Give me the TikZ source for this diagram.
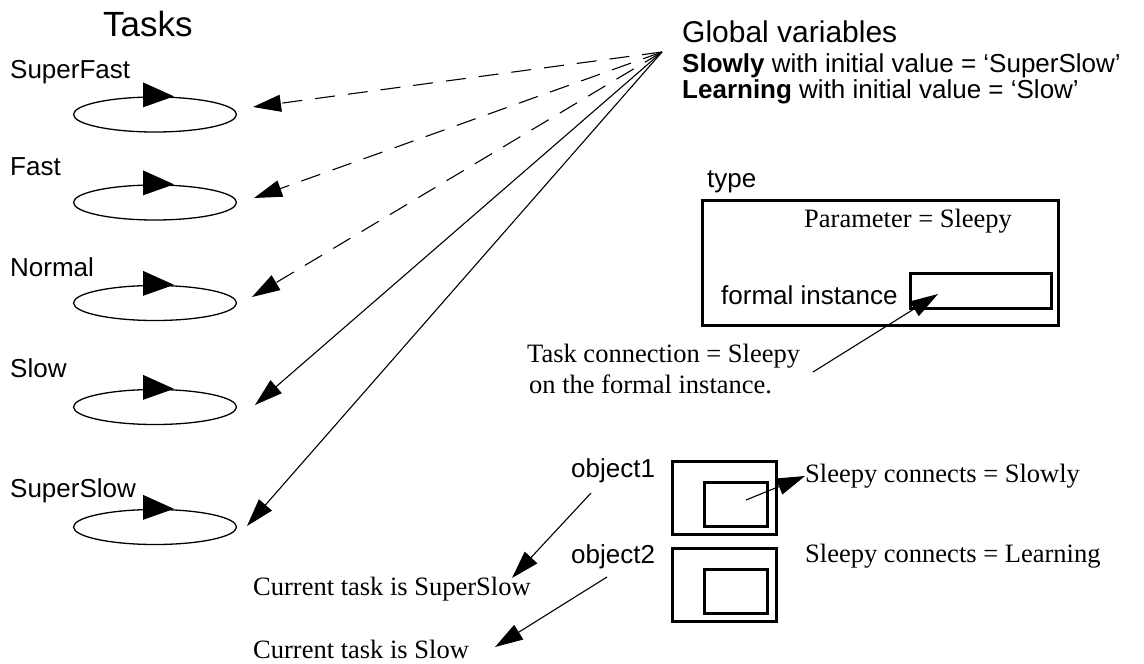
\documentclass[tikz,border=0pt]{standalone}
\usepackage{fontspec}
\setmainfont{Liberation Serif}
\newfontfamily\hv{Liberation Sans}
\usetikzlibrary{arrows.meta,shapes.geometric}
\begin{document}
\begin{tikzpicture}[x=1pt,y=-1pt,
  hvlbl/.style={font=\hv\fontsize{26}{30}\selectfont, anchor=base west, inner sep=0pt},
  tmlbl/.style={font=\fontsize{26.5}{30}\selectfont, anchor=base west, inner sep=0pt},
  taskell/.style={draw, ellipse, line width=1.3pt, minimum width=163pt, minimum height=35pt, inner sep=0pt},
  conn/.style={line width=1.1pt, -{Triangle[length=28pt,width=17pt]}},
  dconn/.style={conn, dash pattern=on 20pt off 13pt},
  boxthick/.style={draw, line width=2.5pt, anchor=north west, inner sep=0pt}
]
\useasboundingbox (0,0) rectangle (1144,664);

% Tasks
\node[font=\hv\fontsize{35}{40}\selectfont, anchor=base west, inner sep=0pt] (tasks) at (103,36) {Tasks};
\node[hvlbl] (lsf) at (10,78) {SuperFast};
\node[hvlbl] (lf)  at (10,175) {Fast};
\node[hvlbl] (ln)  at (10,276) {Normal};
\node[hvlbl] (ls)  at (10,377) {Slow};
\node[hvlbl] (lss) at (10,497) {SuperSlow};

\node[taskell] (e1) at (155,114.5) {};
\node[taskell] (e2) at (155,202.5) {};
\node[taskell] (e3) at (155,303) {};
\node[taskell] (e4) at (155,407) {};
\node[taskell] (e5) at (155,527) {};
\foreach \e in {e1,e2,e3,e4,e5}{
  \fill ([shift={(-12,-14)}]\e.north) -- ([shift={(19,0)}]\e.north) -- ([shift={(-12,11)}]\e.north) -- cycle;
}

% Global variables
\node[font=\hv\fontsize{30}{34}\selectfont, anchor=base west, inner sep=0pt] (gvt) at (682,42) {Global variables};
\node[hvlbl] (gv1) at (682,72) {\textbf{Slowly} with initial value = ‘SuperSlow’};
\node[hvlbl] (gv2) at (682,98) {\textbf{Learning} with initial value = ‘Slow’};
\coordinate (gv) at (662,52);

\coordinate (t1) at (253,107);
\coordinate (t2) at (254,198);
\coordinate (t3) at (252,297);
\coordinate (t4) at (255,405);
\coordinate (t5) at (247,526);
\draw[dconn] (gv) -- (t1);
\draw[dconn] (gv) -- (t2);
\draw[dconn] (gv) -- (t3);
\draw[conn] (gv) -- (t4);
\draw[conn] (gv) -- (t5);

% type box
\node[hvlbl] (typelbl) at (707,187) {type};
\node[boxthick, minimum width=356pt, minimum height=125pt] (typebox) at (701,199) {};
\node[tmlbl] (param) at (804,227) {Parameter = Sleepy};
\node[hvlbl] (formal) at (721,304) {formal instance};
\node[boxthick, minimum width=141pt, minimum height=35pt] (fibox) at (909,272) {};
\node[tmlbl] (tc1) at (527,362) {Task connection = Sleepy};
\node[tmlbl] (tc2) at (529,393) {on the formal instance.};
\coordinate (fitail) at (813,372);
\coordinate (fitip) at (938,294);
\draw[conn] (fitail) -- (fitip);

% objects
\node[hvlbl] (ob1) at (571,477) {object1};
\node[hvlbl] (ob2) at (571,563) {object2};
\node[boxthick, minimum width=104pt, minimum height=73pt] (b1) at (671,460) {};
\node[boxthick, minimum width=63pt, minimum height=44pt] (b1i) at (703,481) {};
\node[boxthick, minimum width=104pt, minimum height=73pt] (b2) at (671,547) {};
\node[boxthick, minimum width=63pt, minimum height=44pt] (b2i) at (703,568) {};
\node[tmlbl] (sc1) at (805,482) {Sleepy connects = Slowly};
\node[tmlbl] (sc2) at (805,562) {Sleepy connects = Learning};
\coordinate (sltail) at (746,500);
\coordinate (sltip) at (805,476);
\draw[conn] (sltail) -- (sltip);

\node[tmlbl] (cur1) at (253,595) {Current task is SuperSlow};
\node[tmlbl] (cur2) at (253,658) {Current task is Slow};
\coordinate (o1tail) at (591,493);
\coordinate (o1tip) at (512,578);
\coordinate (o2tail) at (607,577);
\coordinate (o2tip) at (495,647);
\draw[conn] (o1tail) -- (o1tip);
\draw[conn] (o2tail) -- (o2tip);
\end{tikzpicture}
\end{document}
